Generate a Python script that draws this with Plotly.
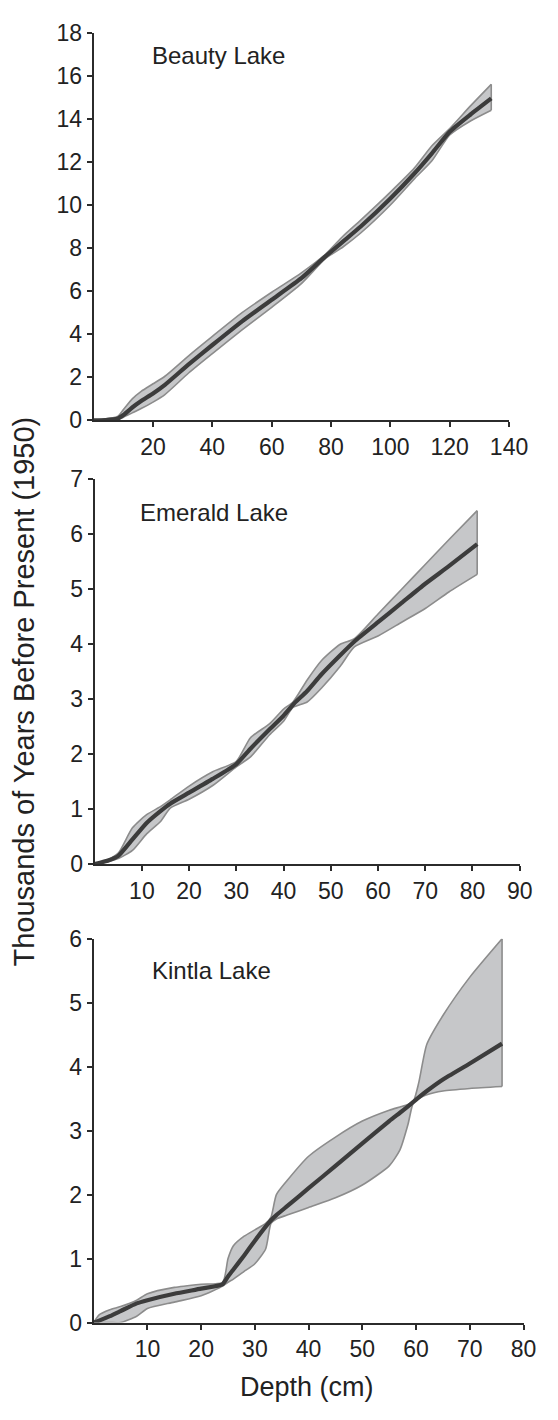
import plotly.graph_objects as go

# ---------------- data ----------------
lake_names = ["Beauty Lake", "Emerald Lake", "Kintla Lake"]

b_depth = [0, 4, 8, 10, 13, 16, 20, 24, 32, 40, 50, 60, 70, 78, 84, 90, 100, 108, 114, 120, 127, 134]
b_age = [0, 0.02, 0.08, 0.25, 0.6, 0.9, 1.25, 1.65, 2.6, 3.5, 4.6, 5.6, 6.6, 7.6, 8.3, 9.0, 10.3, 11.45, 12.4, 13.4, 14.2, 14.95]
b_upper = [0, 0.07, 0.18, 0.5, 1.0, 1.35, 1.7, 2.05, 3.0, 3.9, 5.0, 5.95, 6.85, 7.7, 8.55, 9.3, 10.6, 11.7, 12.75, 13.55, 14.6, 15.6]
b_lower = [0, 0, 0.03, 0.15, 0.35, 0.55, 0.85, 1.2, 2.2, 3.1, 4.2, 5.25, 6.35, 7.5, 8.05, 8.7, 10.0, 11.2, 12.05, 13.25, 13.9, 14.4]

e_depth = [0, 3, 5, 8, 11, 14, 16, 20, 25, 30, 33, 37, 40, 42, 45, 48, 52, 55, 60, 65, 70, 75, 81]
e_age = [0, 0.07, 0.15, 0.45, 0.75, 0.97, 1.1, 1.3, 1.55, 1.82, 2.1, 2.45, 2.7, 2.9, 3.15, 3.45, 3.8, 4.05, 4.4, 4.75, 5.1, 5.42, 5.82]
e_upper = [0, 0.09, 0.2, 0.66, 0.9, 1.05, 1.17, 1.42, 1.68, 1.87, 2.3, 2.55, 2.82, 2.95, 3.35, 3.7, 4.0, 4.1, 4.55, 5.0, 5.45, 5.9, 6.43]
e_lower = [0, 0.05, 0.1, 0.25, 0.55, 0.78, 1.02, 1.18, 1.43, 1.77, 1.95, 2.35, 2.6, 2.85, 2.95, 3.2, 3.6, 3.95, 4.15, 4.4, 4.65, 4.95, 5.27]

k_depth = [0, 1, 3, 5, 8, 10, 15, 20, 24, 25, 26, 28, 30, 32, 33, 34, 36, 40, 45, 50, 55, 57, 58.5, 59.5, 60.5, 62, 65, 70, 76]
k_age = [0, 0.03, 0.1, 0.18, 0.3, 0.35, 0.45, 0.53, 0.6, 0.72, 0.83, 1.05, 1.28, 1.5, 1.6, 1.68, 1.82, 2.1, 2.45, 2.8, 3.15, 3.28, 3.38, 3.45, 3.52, 3.62, 3.8, 4.05, 4.36]
k_upper = [0, 0.12, 0.2, 0.25, 0.35, 0.45, 0.55, 0.6, 0.63, 1.0, 1.2, 1.35, 1.45, 1.55, 1.65, 2.0, 2.22, 2.6, 2.9, 3.15, 3.32, 3.37, 3.41, 3.46, 3.75, 4.35, 4.8, 5.4, 6.0]
k_lower = [0, 0, 0, 0, 0.1, 0.22, 0.32, 0.42, 0.57, 0.63, 0.68, 0.8, 0.92, 1.15, 1.55, 1.62, 1.68, 1.8, 1.95, 2.15, 2.45, 2.7, 3.1, 3.44, 3.5, 3.56, 3.62, 3.66, 3.69]

x_ranges = [[0, 140], [0, 90], [0, 80]]
y_ranges = [[0, 18], [0, 7], [0, 6]]
x_ticks = [[20, 40, 60, 80, 100, 120, 140], [10, 20, 30, 40, 50, 60, 70, 80, 90], [10, 20, 30, 40, 50, 60, 70, 80]]
y_ticks = [list(range(0, 19, 2)), list(range(0, 8)), list(range(0, 7))]

y_title = "Thousands of Years Before Present (1950)"
x_title = "Depth (cm)"

# ---------------- layout geometry ----------------
W, H = 558, 1420
# pixel boxes: (left, right, top, bottom)
boxes = [(97, 527, 20, 415), (98, 538, 475, 867), (97, 542, 943, 1334)]
label_pos = [(155, 43), (143, 509), (155, 975)]

FONT = "Liberation Sans, Arial, sans-serif"
TXT = "#222222"
AX = "#2b2b2b"
FILL = "#c6c7c9"
EDGE = "#8c8c8c"
LINE = "#3c3c3c"

series = [
    (b_depth, b_age, b_upper, b_lower),
    (e_depth, e_age, e_upper, e_lower),
    (k_depth, k_age, k_upper, k_lower),
]

fig = go.Figure()
for i, (d, a, up, lo) in enumerate(series):
    sfx = "" if i == 0 else str(i + 1)
    xa, ya = "x" + sfx, "y" + sfx
    edge = dict(color=EDGE, width=1.6, shape="spline", smoothing=0.6)
    fig.add_trace(go.Scatter(x=d, y=lo, mode="lines", line=edge, xaxis=xa, yaxis=ya,
                             hoverinfo="skip", showlegend=False))
    fig.add_trace(go.Scatter(x=d, y=up, mode="lines", line=edge, fill="tonexty",
                             fillcolor=FILL, xaxis=xa, yaxis=ya,
                             hoverinfo="skip", showlegend=False))
    # closing edge at the deepest sample
    fig.add_trace(go.Scatter(x=[d[-1], d[-1]], y=[lo[-1], up[-1]], mode="lines",
                             line=dict(color=EDGE, width=1.6), xaxis=xa, yaxis=ya,
                             hoverinfo="skip", showlegend=False))
    fig.add_trace(go.Scatter(
        x=d, y=a, mode="lines", line=dict(color=LINE, width=4.2, shape="spline", smoothing=0.5),
        xaxis=xa, yaxis=ya, showlegend=False, name=lake_names[i]))

layout = dict(
    width=W, height=H, margin=dict(l=0, r=0, t=0, b=0),
    paper_bgcolor="white", plot_bgcolor="white",
    font=dict(family=FONT, color=TXT, size=23),
    showlegend=False,
)
axis_common = dict(showline=True, linecolor=AX, linewidth=2, ticks="outside",
                   ticklen=5, tickwidth=1.5, tickcolor=AX, showgrid=False,
                   zeroline=False, fixedrange=True,
                   tickfont=dict(family=FONT, size=23, color=TXT))
for i, (l, r, t, b) in enumerate(boxes):
    sfx = "" if i == 0 else str(i + 1)
    layout["xaxis" + sfx] = dict(axis_common, domain=[l / W, r / W], range=x_ranges[i],
                                 tickvals=x_ticks[i], anchor="y" + sfx)
    layout["yaxis" + sfx] = dict(axis_common, domain=[1 - b / H, 1 - t / H], range=y_ranges[i],
                                 tickvals=y_ticks[i], anchor="x" + sfx)

annotations = []
for name, (px, py) in zip(lake_names, label_pos):
    annotations.append(dict(text=name, x=px / W, y=1 - py / H, xref="paper", yref="paper",
                            xanchor="left", yanchor="middle", showarrow=False,
                            font=dict(family=FONT, size=24, color=TXT)))
annotations.append(dict(text=y_title, x=25 / W, y=1 - 691 / H, xref="paper", yref="paper",
                        xanchor="center", yanchor="middle", textangle=-90, showarrow=False,
                        font=dict(family=FONT, size=29, color=TXT)))
annotations.append(dict(text=x_title, x=318 / W, y=1 - 1400 / H, xref="paper", yref="paper",
                        xanchor="center", yanchor="middle", showarrow=False,
                        font=dict(family=FONT, size=27, color=TXT)))
layout["annotations"] = annotations
fig.update_layout(**layout)
fig.write_html("out.html", config={"displayModeBar": False},
               post_script="document.body.style.margin='0';document.body.style.overflow='hidden';")
